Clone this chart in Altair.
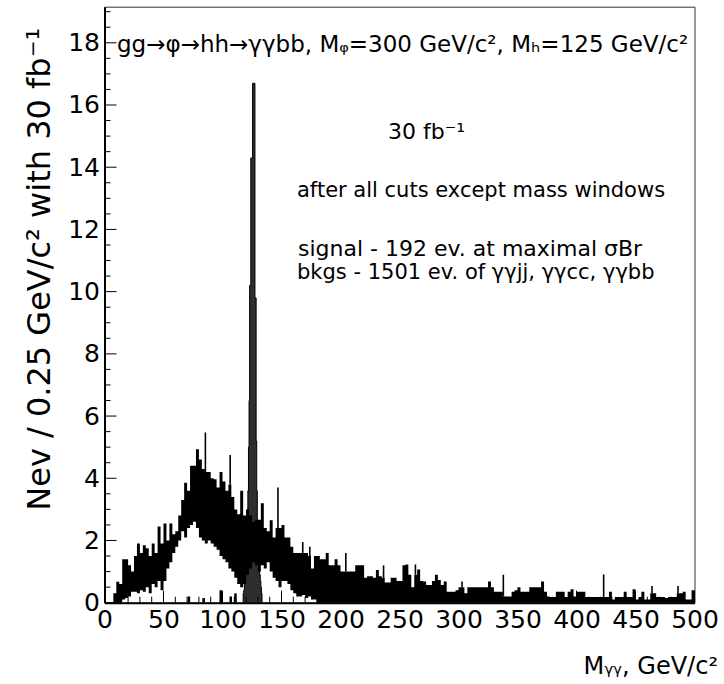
import altair as alt
import pandas as pd

# ---------------- data ----------------
BKG_BIN = 2.5  # GeV, visual envelope cell width
bkg_upper = [
    0, 0, 0, 0.3, 0.67, 0.6, 1.4, 1.4, 1.2, 1.0,
    1.5, 1.9, 1.6, 1.85, 1.75, 1.5, 1.9, 1.6, 2.45, 1.9,
    2.55, 2.0, 2.55, 2.2, 2.3, 2.8, 3.3, 3.86, 3.6, 4.4,
    4.4, 4.93, 4.6, 4.3, 4.2, 4.2, 4.0, 3.97, 3.7, 4.2,
    3.9, 3.6, 3.8, 3.4, 3.0, 2.84, 3.6, 2.8, 3.0, 2.8,
    2.6, 2.67, 2.67, 3.2, 2.4, 2.3, 2.65, 2.1, 2.4, 2.4,
    2.5, 2.1, 2.1, 1.8, 1.6, 1.6, 1.6, 1.6, 1.6, 1.5,
    1.1, 1.5, 1.5, 1.4, 1.4, 1.6, 1.2, 1.2, 1.4, 1.2,
    1.0, 1.0, 1.0, 1.0, 1.0, 1.2, 1.2, 1.2, 0.8, 0.85,
    0.85, 0.8, 1.05, 0.85, 0.8, 0.65, 0.65, 0.8, 0.8, 0.7,
    0.7, 1.2, 1.23, 0.9, 0.5, 0.9, 1.07, 0.7, 0.68, 0.57,
    0.57, 0.7, 0.9, 0.73, 0.57, 0.68, 0.35, 0.35, 0.35, 0.4,
    0.5, 0.5, 0.3, 0.5, 0.5, 0.5, 0.5, 0.5, 0.5, 0.5,
    0.68, 0.5, 0.35, 0.35, 0.35, 0.2, 0.2, 0.2, 0.35, 0.4,
    0.5, 0.35, 0.35, 0.35, 0.5, 0.5, 0.5, 0.5, 0.68, 0.35,
    0.2, 0.18, 0.18, 0.35, 0.35, 0.35, 0.18, 0.35, 0.43, 0.2,
    0.35, 0.35, 0.35, 0.18, 0.18, 0.18, 0.18, 0.18, 0.18, 0.18,
    0.18, 0.35, 0.1, 0.18, 0.18, 0.18, 0.35, 0.18, 0.18, 0.43,
    0.1, 0.18, 0.35, 0.1, 0.1, 0.3, 0.3, 0.18, 0.18, 0.18,
    0.15, 0.18, 0.18, 0.18, 0.3, 0.3, 0.35, 0.1, 0.1, 0.4,
]
bkg_lower = [
    0, 0, 0, 0, 0, 0, 0.1, 0.15, 0.2, 0.35,
    0.35, 0.3, 0.4, 0.35, 0.5, 0.3, 0.6, 0.5, 0.7, 0.4,
    0.7, 1.1, 1.3, 1.6, 1.8, 2.0, 2.3, 2.1, 2.4, 2.5,
    2.6, 2.4, 2.1, 2.0, 1.9, 2.0, 1.9, 1.8, 1.7, 1.5,
    1.4, 1.3, 1.1, 1.0, 0.8, 0.6, 0.5, 0.6, 0.9, 1.1,
    1.3, 1.2, 1.0, 1.2, 1.1, 1.3, 1.0, 0.8, 0.7, 0.5,
    0.7, 0.7, 0.6, 0.4, 0.3, 0.2, 0.2, 0.25, 0.15, 0.2,
    0.1, 0.1,
] + [0] * 128

spike_mass = [85.5, 106.5, 147.0, 168.0, 174.0, 204.5, 236.5, 263.5,
              303.0, 338.0, 423.0, 464.0, 486.0]
spike_height = [5.47, 4.75, 3.7, 1.95, 1.8, 1.6, 1.2, 1.23,
                0.68, 0.9, 0.91, 0.54, 0.54]

stub_mass = [71.5, 84.0, 98.5, 107.0, 111.0]
stub_height = [0.2, 0.15, 0.4, 0.2, 0.3]

SIG_START = 117.5
SIG_BIN = 0.5
signal_values = [0.3, 0.4, 0.6, 0.8, 1.0, 1.5, 2.6, 3.0, 3.6, 5.0, 6.5,
                 10.2, 10.2, 14.3, 14.3, 14.3, 16.7, 16.7, 16.7, 16.7,
                 9.8, 9.8, 5.2, 3.6, 2.6, 2.2, 1.5, 1.1, 0.9, 0.7, 0.5, 0.3]

x_major = list(range(0, 501, 50))
x_minor = [v for v in range(0, 501, 10) if v % 50 != 0]
y_major = list(range(0, 19, 2))
y_minor = [v / 2 for v in range(0, 39) if v % 4 != 0]

title_y = "Nev / 0.25 GeV/c\u00b2 with 30 fb\u207b\u00b9"
title_x = "M\u1d67\u1d67, GeV/c\u00b2"
txt_top = "gg\u2192\u03c6\u2192hh\u2192\u03b3\u03b3bb, M\u1d69=300 GeV/c\u00b2, M\u2095=125 GeV/c\u00b2"
txt_lumi = "30 fb\u207b\u00b9"
txt_cuts = "after all cuts except mass windows"
txt_sig = "signal - 192 ev. at maximal \u03c3Br"
txt_bkg = "bkgs - 1501 ev. of \u03b3\u03b3jj, \u03b3\u03b3cc, \u03b3\u03b3bb"

# ---------------- tables ----------------
n = len(bkg_upper)
bkg_df = pd.DataFrame({
    "m": [i * BKG_BIN for i in range(n)] + [n * BKG_BIN],
    "upper": bkg_upper + [bkg_upper[-1]],
    "lower": bkg_lower + [bkg_lower[-1]],
})
spike_df = pd.DataFrame({
    "m": spike_mass, "h": spike_height,
    "base": [bkg_upper[int(m // BKG_BIN)] for m in spike_mass],
})
stub_df = pd.DataFrame({"m": stub_mass, "h": stub_height, "z": 0})

ns = len(signal_values)
sig_edges = [SIG_START + i * SIG_BIN for i in range(ns + 1)]
sig_df = pd.DataFrame({"m": sig_edges, "s": signal_values + [0]})
sig_line_df = pd.DataFrame({
    "m": [SIG_START] + sig_edges,
    "s": [0] + signal_values + [0],
    "o": list(range(ns + 2)),
})

W, H = 590, 596
FONT = "DejaVu Sans"

x_scale = alt.Scale(domain=[0, 500], nice=False, zero=False)
y_scale = alt.Scale(domain=[0, 19.16], nice=False, zero=True)

x_axis = alt.Axis(values=x_major, ticks=False, tickSize=0, grid=False,
                  labelPadding=5, labelFontSize=25, labelFont=FONT,
                  labelColor="black", domainColor="black", domainWidth=2,
                  title=title_x, titleFont=FONT, titleFontSize=24,
                  titleFontWeight="normal", titleColor="black",
                  titleX=613, titleY=71, titleAlign="right",
                  titleBaseline="alphabetic", titleAngle=0, zindex=1,
                  labelFlush=False, labelOverlap=False)
y_axis = alt.Axis(values=y_major, ticks=False, tickSize=0, grid=False,
                  labelPadding=5, labelFontSize=25, labelFont=FONT,
                  labelColor="black", domainColor="black", domainWidth=2,
                  title=title_y, titleFont=FONT, titleFontSize=32,
                  titleFontWeight="normal", titleColor="black",
                  titleX=-55, titleY=262, titleAlign="center",
                  titleBaseline="alphabetic", titleAngle=270, zindex=1,
                  labelFlush=False, labelOverlap=False)

X = lambda f: alt.X(f, scale=x_scale, axis=x_axis)
Y = lambda f: alt.Y(f, scale=y_scale, axis=y_axis)

sig_area = alt.Chart(sig_df).mark_area(
    interpolate="step-after", color="#2e2e2e", opacity=1
).encode(x=X("m:Q"), y=Y("s:Q"))

band = alt.Chart(bkg_df).mark_area(
    interpolate="step-after", color="black", opacity=1
).encode(x=X("m:Q"), y=Y("upper:Q"), y2="lower:Q")

spikes = alt.Chart(spike_df).mark_rule(color="black", strokeWidth=1.6).encode(
    x=X("m:Q"), y=Y("base:Q"), y2="h:Q")

stubs = alt.Chart(stub_df).mark_rule(color="black", strokeWidth=2.5).encode(
    x=X("m:Q"), y=Y("z:Q"), y2="h:Q")

sig_line = alt.Chart(sig_line_df).mark_line(
    interpolate="step-after", color="black", strokeWidth=1
).encode(x=X("m:Q"), y=Y("s:Q"), order="o:Q")

ymaj = alt.Chart(pd.DataFrame({"v": y_major})).mark_rule(color="black", strokeWidth=1).encode(
    y=Y("v:Q"), x=alt.value(0), x2=alt.value(12))
ymin = alt.Chart(pd.DataFrame({"v": y_minor})).mark_rule(color="black", strokeWidth=1).encode(
    y=Y("v:Q"), x=alt.value(0), x2=alt.value(6))
xmaj = alt.Chart(pd.DataFrame({"v": x_major})).mark_rule(color="black", strokeWidth=1).encode(
    x=X("v:Q"), y=alt.value(H), y2=alt.value(H - 12))
xmin = alt.Chart(pd.DataFrame({"v": x_minor})).mark_rule(color="black", strokeWidth=1).encode(
    x=X("v:Q"), y=alt.value(H), y2=alt.value(H - 6))


def label(text, px, py, size):
    return alt.Chart(pd.DataFrame({"t": [text]})).mark_text(
        align="left", baseline="alphabetic", font=FONT, fontSize=size,
        color="black"
    ).encode(x=alt.value(px), y=alt.value(py), text="t:N")


texts = [
    label(txt_top, 12.5, 45, 23),
    label(txt_lumi, 283.5, 132, 22),
    label(txt_cuts, 192.5, 190, 21),
    label(txt_sig, 193.5, 249, 22),
    label(txt_bkg, 192.5, 272, 21),
]

chart = alt.layer(
    sig_area, band, stubs, spikes, sig_line, ymaj, ymin, xmaj, xmin, *texts
).properties(
    width=W, height=H,
    padding={"left": 104.5, "top": 6.7, "right": 29.5, "bottom": 81.3},
    autosize=alt.AutoSizeParams(type="none"),
    background="white",
).configure_view(stroke="#333333", strokeWidth=1)

chart.save("out.html", embed_options={"renderer": "svg", "actions": False})
